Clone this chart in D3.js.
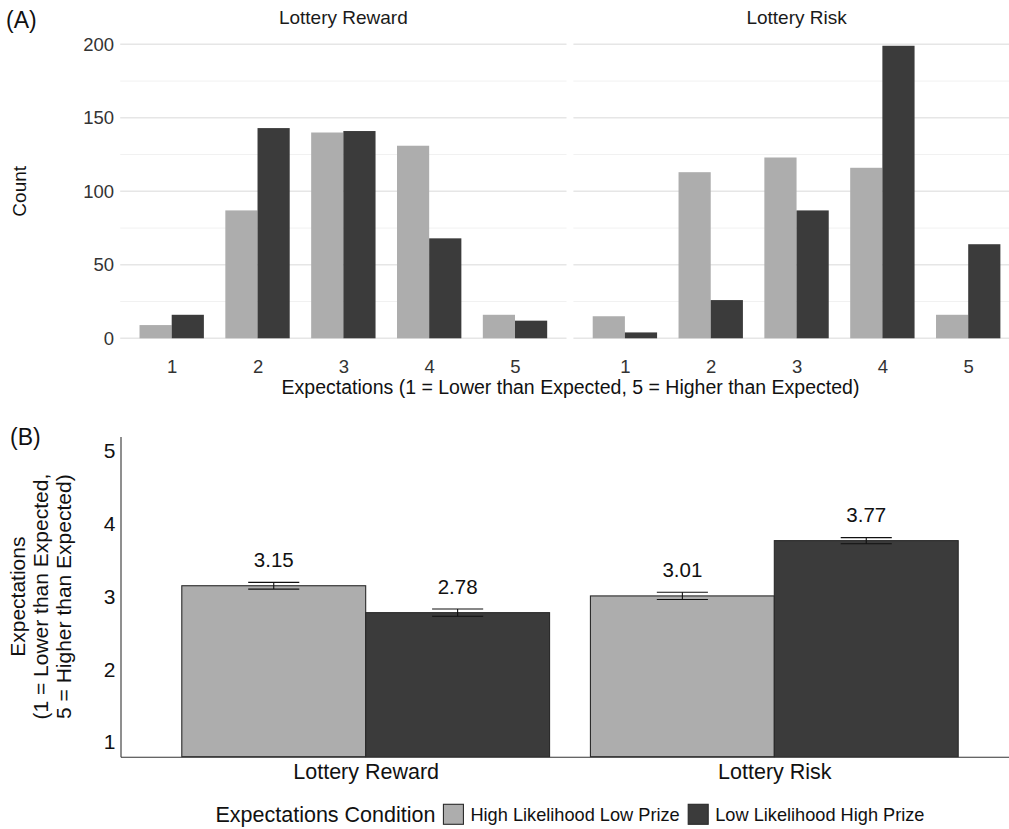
<!DOCTYPE html>
<html>
<head>
<meta charset="utf-8">
<script src="https://cdn.jsdelivr.net/npm/d3@7"></script>
<style>
  body { margin: 0; background: #fff; }
  svg { display: block; font-family: "Liberation Sans", Arial, Helvetica, sans-serif; }
</style>
</head>
<body>
<svg id="chart" width="1009" height="829"></svg>
<script>
// ---- data ----
const ratings = [1, 2, 3, 4, 5];
const facets = ["Lottery Reward", "Lottery Risk"];
const conditions = ["High Likelihood Low Prize", "Low Likelihood High Prize"];

// (A) counts of each expectation rating
const rewardHighLikelihood = [9, 87, 140, 131, 16];
const rewardLowLikelihood  = [16, 143, 141, 68, 12];
const riskHighLikelihood   = [15, 113, 123, 116, 16];
const riskLowLikelihood    = [4, 26, 87, 199, 64];
const countTicks      = [0, 50, 100, 150, 200];
const countMinorTicks = [25, 75, 125, 175];

// (B) mean expectation and standard error, per facet
const meanHighLikelihood = [3.15, 3.01];
const meanLowLikelihood  = [2.78, 3.77];
const seHighLikelihood   = [0.046, 0.05];
const seLowLikelihood    = [0.05, 0.042];
const expectationTicks   = [1, 2, 3, 4, 5];

const fills = ["#adadad", "#3b3b3b"];

const svg = d3.select("#chart");

// ================= Panel A: faceted count histograms =================
const yA = d3.scaleLinear().domain([0, 200]).range([338.3, 44.3]);

const panelsA = [
  { title: facets[0], x0: 120.2, x1: 566.5, series: [rewardHighLikelihood, rewardLowLikelihood] },
  { title: facets[1], x0: 573.4, x1: 1019.7, series: [riskHighLikelihood, riskLowLikelihood] }
];

panelsA.forEach(p => {
  const g = svg.append("g");
  const x = d3.scalePoint().domain(ratings).range([p.x0, p.x1]).padding(0.6);
  const step = x.step();
  const dodge = d3.scaleBand().domain(conditions).range([-0.375 * step, 0.375 * step]);

  g.selectAll("line.minor").data(countMinorTicks).join("line")
    .attr("class", "minor")
    .attr("x1", p.x0).attr("x2", p.x1)
    .attr("y1", d => yA(d)).attr("y2", d => yA(d))
    .attr("stroke", "#f1f1f1").attr("stroke-width", 1);

  g.selectAll("line.major").data(countTicks).join("line")
    .attr("class", "major")
    .attr("x1", p.x0).attr("x2", p.x1)
    .attr("y1", d => yA(d)).attr("y2", d => yA(d))
    .attr("stroke", "#e6e6e6").attr("stroke-width", 1.4);

  p.series.forEach((vals, i) => {
    g.selectAll(null).data(vals).join("rect")
      .attr("x", (d, j) => x(ratings[j]) + dodge(conditions[i]))
      .attr("width", dodge.bandwidth())
      .attr("y", d => yA(d))
      .attr("height", d => yA(0) - yA(d))
      .attr("fill", fills[i]);
  });

  // x tick labels
  const ax = g.append("g")
    .attr("transform", `translate(0,${yA(0)})`)
    .call(d3.axisBottom(x).tickSize(0).tickPadding(21.6));
  ax.select(".domain").remove();
  ax.selectAll("text").attr("font-size", 18.5).attr("fill", "#333").attr("font-family", null);

  // facet strip title
  g.append("text")
    .attr("x", (p.x0 + p.x1) / 2).attr("y", 24)
    .attr("text-anchor", "middle")
    .attr("font-size", 19).attr("fill", "#1a1a1a")
    .text(p.title);
});

// y axis labels (left facet only)
const ayA = svg.append("g")
  .attr("transform", `translate(${panelsA[0].x0},0)`)
  .call(d3.axisLeft(yA).tickValues(countTicks).tickSize(0).tickPadding(6.2));
ayA.select(".domain").remove();
ayA.selectAll("text").attr("font-size", 18.5).attr("fill", "#333").attr("font-family", null);

svg.append("text")
  .attr("transform", "translate(25.5,191.3) rotate(-90)")
  .attr("text-anchor", "middle")
  .attr("font-size", 19).attr("fill", "#111")
  .text("Count");

svg.append("text")
  .attr("x", 570.5).attr("y", 394)
  .attr("text-anchor", "middle")
  .attr("font-size", 19.5).attr("fill", "#111")
  .text("Expectations (1 = Lower than Expected, 5 = Higher than Expected)");

svg.append("text")
  .attr("x", 6).attr("y", 27.5)
  .attr("font-size", 23).attr("fill", "#111")
  .text("(A)");

// ================= Panel B: mean expectations with SE =================
const yB = d3.scaleLinear().domain([0.8, 5.2]).range([756.7, 436.6]);
const xB = d3.scalePoint().domain(facets).range([120.5, 1019.5]).padding(0.6);
const stepB = xB.step();
const dodgeB = d3.scaleBand().domain(conditions).range([-0.45 * stepB, 0.45 * stepB]);
const errHalf = 0.0625 * stepB;

const summary = [];
facets.forEach((f, k) => {
  summary.push({ facet: f, cond: conditions[0], mean: meanHighLikelihood[k], se: seHighLikelihood[k], fill: fills[0] });
  summary.push({ facet: f, cond: conditions[1], mean: meanLowLikelihood[k], se: seLowLikelihood[k], fill: fills[1] });
});
const cx = d => xB(d.facet) + dodgeB(d.cond) + dodgeB.bandwidth() / 2;

const gB = svg.append("g");
gB.selectAll("rect").data(summary).join("rect")
  .attr("x", d => xB(d.facet) + dodgeB(d.cond))
  .attr("width", dodgeB.bandwidth())
  .attr("y", d => yB(d.mean))
  .attr("height", d => yB(0.8) - yB(d.mean))
  .attr("fill", d => d.fill)
  .attr("stroke", "#2a2a2a").attr("stroke-width", 1.1);

// error bars
const eb = gB.selectAll("g.err").data(summary).join("g").attr("class", "err")
  .attr("stroke", "#111").attr("stroke-width", 1.1);
eb.append("line")
  .attr("x1", cx).attr("x2", cx)
  .attr("y1", d => yB(d.mean - d.se)).attr("y2", d => yB(d.mean + d.se));
eb.append("line")
  .attr("x1", d => cx(d) - errHalf).attr("x2", d => cx(d) + errHalf)
  .attr("y1", d => yB(d.mean + d.se)).attr("y2", d => yB(d.mean + d.se));
eb.append("line")
  .attr("x1", d => cx(d) - errHalf).attr("x2", d => cx(d) + errHalf)
  .attr("y1", d => yB(d.mean - d.se)).attr("y2", d => yB(d.mean - d.se));

// value labels
gB.selectAll("text.val").data(summary).join("text")
  .attr("class", "val")
  .attr("x", cx).attr("y", d => yB(d.mean + d.se) - 15.5)
  .attr("text-anchor", "middle")
  .attr("font-size", 20.5).attr("fill", "#111")
  .text(d => d3.format(".2f")(d.mean));

// axes
const ayB = svg.append("g")
  .attr("transform", "translate(120.5,0)")
  .call(d3.axisLeft(yB).tickValues(expectationTicks).tickFormat(d3.format("d"))
    .tickSize(0).tickSizeOuter(0).tickPadding(5));
ayB.select(".domain").attr("stroke", "#333").attr("stroke-width", 1.1);
ayB.selectAll("text").attr("font-size", 21).attr("fill", "#111").attr("font-family", null);

const axB = svg.append("g")
  .attr("transform", `translate(0,${yB(0.8)})`)
  .call(d3.axisBottom(xB).tickSize(0).tickSizeOuter(0).tickPadding(6.8));
axB.select(".domain").attr("stroke", "#333").attr("stroke-width", 1.1);
axB.selectAll("text").attr("font-size", 21.5).attr("fill", "#111").attr("font-family", null);

// y axis title, three lines
const yTitleLines = ["Expectations", "(1 = Lower than Expected,", "5 = Higher than Expected)"];
const yMid = (yB(0.8) + yB(5.2)) / 2;
svg.selectAll("text.ytitle").data(yTitleLines).join("text")
  .attr("class", "ytitle")
  .attr("transform", (d, i) => `translate(${25 + i * 23},${yMid}) rotate(-90)`)
  .attr("text-anchor", "middle")
  .attr("font-size", 21).attr("fill", "#111")
  .text(d => d);

svg.append("text")
  .attr("x", 10).attr("y", 445)
  .attr("font-size", 23).attr("fill", "#111")
  .text("(B)");

// legend, centred under the plot
const legend = svg.append("g");
const legY = 814.3;
const legTitle = legend.append("text")
  .attr("y", legY + 7.6).attr("font-size", 21.5).attr("fill", "#111")
  .text("Expectations Condition");
let cursor = legTitle.node().getComputedTextLength() + 8;
conditions.forEach((c, i) => {
  legend.append("rect")
    .attr("x", cursor).attr("y", legY - 10).attr("width", 20).attr("height", 20)
    .attr("fill", fills[i]).attr("stroke", "#2a2a2a").attr("stroke-width", 1.1);
  cursor += 27;
  const t = legend.append("text")
    .attr("x", cursor).attr("y", legY + 6.5)
    .attr("font-size", 18.2).attr("fill", "#111")
    .text(c);
  cursor += t.node().getComputedTextLength() + (i === 0 ? 8.5 : 0);
});
legend.attr("transform", `translate(${570 - cursor / 2},0)`);
</script>
</body>
</html>
